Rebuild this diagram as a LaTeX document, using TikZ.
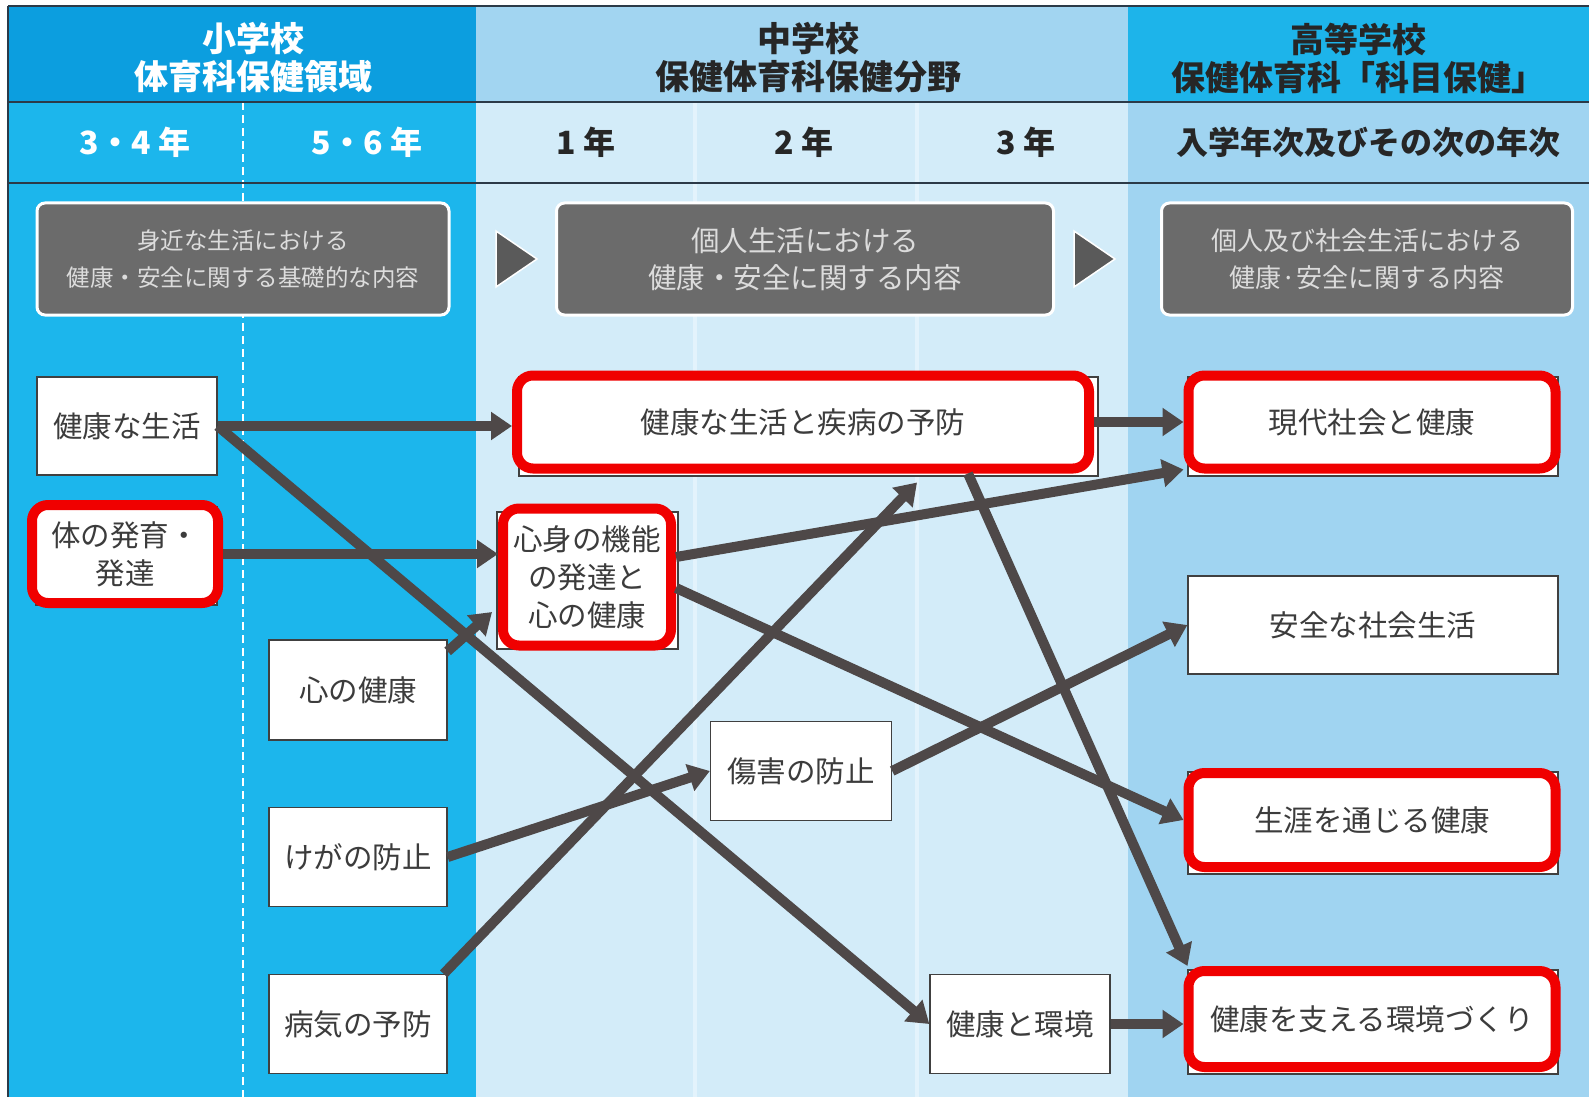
\documentclass[tikz,border=0pt]{standalone}
\usepackage{fontspec}
\setmainfont{Noto Sans CJK JP}
\usetikzlibrary{arrows.meta,calc}
\definecolor{elemhead}{HTML}{0C9EDF}
\definecolor{elembody}{HTML}{1CB6EC}
\definecolor{midhead}{HTML}{A2D5F1}
\definecolor{midbody}{HTML}{D3ECF9}
\definecolor{midline}{HTML}{E3F3FC}
\definecolor{highhead}{HTML}{1DB4EA}
\definecolor{highbody}{HTML}{A0D4F1}
\definecolor{arrowgray}{HTML}{4E4848}
\definecolor{boxgray}{HTML}{6B6B6B}
\definecolor{tritone}{HTML}{5A5A5A}
\definecolor{textgray}{HTML}{3C3C3C}
\definecolor{boxtext}{HTML}{DCDCDC}
\definecolor{redframe}{HTML}{F00000}
\definecolor{rule}{HTML}{2B3A48}
\tikzset{
  plain/.style={draw=black!75, line width=1.3pt, fill=white, text=textgray,
    align=center, font=\fontsize{29.5}{38}\selectfont, inner sep=0pt},
  redbox/.style={draw=redframe, line width=10pt, rounded corners=16pt, fill=white,
    text=textgray, align=center, font=\fontsize{29.5}{38}\selectfont, inner sep=0pt},
  underbox/.style={draw=black!75, line width=1.3pt, fill=white},
  graybox/.style={draw=white, line width=3pt, rounded corners=8pt, fill=boxgray,
    text=boxtext, align=center, inner sep=0pt},
  headtext/.style={align=center, font=\bfseries\fontsize{34}{38}\selectfont},
  yeartext/.style={font=\bfseries\fontsize{32}{34}\selectfont},
  arr/.style={draw=arrowgray, line width=10pt, -{Triangle[length=21pt,width=27pt]}},
}
\begin{document}
\begin{tikzpicture}[x=1pt,y=-1pt]
\useasboundingbox (0,0) rectangle (1589,1099);
% backgrounds
\fill[white] (0,0) rectangle (1589,1099);
\fill[elemhead] (8,6) rectangle (476,102);
\fill[elembody] (8,102) rectangle (476,1097);
\fill[midhead] (476,6) rectangle (1128,102);
\fill[midbody] (476,102) rectangle (1128,1097);
\fill[highhead] (1128,6) rectangle (1589,102);
\fill[highbody] (1128,102) rectangle (1589,1097);
\draw[midline, line width=4pt] (695,102) -- (695,1097);
\draw[midline, line width=4pt] (917,102) -- (917,1097);
\draw[white, line width=1.5pt, dash pattern=on 8pt off 5pt] (243,102) -- (243,1097);
\draw[rule, line width=2pt] (8,6) -- (1589,6);
\draw[rule, line width=2pt] (8,102) -- (1589,102);
\draw[rule, line width=2pt] (8,183) -- (1589,183);
\draw[rule, line width=2pt] (8,6) -- (8,1097);
% header texts
\node[headtext, text=white] (hElem) at (253,58) {小学校\\体育科保健領域};
\node[headtext, text=black!85] (hMid) at (808,58) {中学校\\保健体育科保健分野};
\node[headtext, text=black!85] (hHigh) at (1358,58) {高等学校\\保健体育科「科目保健」};
\node[yeartext, text=white] (y34) at (135,142) {3・4 年};
\node[yeartext, text=white] (y56) at (367,142) {5・6 年};
\node[yeartext, text=black!85] (y1) at (586,142) {1 年};
\node[yeartext, text=black!85] (y2) at (804,142) {2 年};
\node[yeartext, text=black!85] (y3) at (1026,142) {3 年};
\node[yeartext, text=black!85] (yH) at (1368,142) {入学年次及びその次の年次};
% gray boxes
\node[graybox, minimum width=412pt, minimum height=112pt, font=\fontsize{23.5}{37}\selectfont] (g1) at (243,259)
  {身近な生活における\\健康・安全に関する基礎的な内容};
\node[graybox, minimum width=497pt, minimum height=112pt, font=\fontsize{28.5}{37}\selectfont] (g2) at (805,259)
  {個人生活における\\健康・安全に関する内容};
\node[graybox, minimum width=411pt, minimum height=112pt, font=\fontsize{26}{37}\selectfont] (g3) at (1367,259)
  {個人及び社会生活における\\健康·安全に関する内容};
\fill[tritone, draw=white, line width=1.5pt] (496,231) -- (537,259) -- (496,287) -- cycle;
\fill[tritone, draw=white, line width=1.5pt] (1074,231) -- (1115,259) -- (1074,287) -- cycle;
% boxes peeking behind red frames
\draw[underbox] (36,507) rectangle (217,605);
\draw[underbox] (519,377) rectangle (1098,476);
\draw[underbox] (497,512) rectangle (678,649);
\draw[underbox] (1188,377) rectangle (1558,476);
\draw[underbox] (1188,772) rectangle (1558,874);
\draw[underbox] (1188,970) rectangle (1558,1074);
% elementary
\node[plain, minimum width=180pt, minimum height=98pt] (kenkou) at (127,426) {健康な生活};
\node[redbox, minimum width=186pt, minimum height=98pt] (karada) at (125,554) {体の発育・\\発達};
\node[plain, minimum width=178pt, minimum height=100pt] (kokoro) at (358,690) {心の健康};
\node[plain, minimum width=178pt, minimum height=99pt] (kega) at (358,857) {けがの防止};
\node[plain, minimum width=178pt, minimum height=99pt] (byouki) at (358,1024) {病気の予防};
% middle school
\node[redbox, minimum width=572pt, minimum height=93pt] (m1) at (803,422) {健康な生活と疾病の予防};
\node[redbox, minimum width=168pt, minimum height=137pt] (m2) at (587,577) {心身の機能\\の発達と\\心の健康};
\node[plain, minimum width=181pt, minimum height=99pt] (m3) at (801,771) {傷害の防止};
\node[plain, minimum width=180pt, minimum height=99pt] (m4) at (1020,1024) {健康と環境};
% high school
\node[redbox, minimum width=367pt, minimum height=93pt] (h1) at (1372,422) {現代社会と健康};
\node[plain, minimum width=370pt, minimum height=98pt] (h2) at (1373,625) {安全な社会生活};
\node[redbox, minimum width=367pt, minimum height=94pt] (h3) at (1372,820) {生涯を通じる健康};
\node[redbox, minimum width=367pt, minimum height=96pt] (h4) at (1372,1019) {健康を支える環境づくり};
% arrows
\draw[arr] (kenkou.east) -- (kenkou.east -| m1.west);
\draw[arr] (kenkou.east) -- (m4.west);
\draw[arr] (karada.east) -- (karada.east -| m2.west);
\draw[arr] ($(kokoro.north east)+(0,12)$) -- ($(m2.west)+(-6,35)$);
\draw[arr] (kega.east) -- (m3.west);
\draw[arr] ($(byouki.north east)+(-4,0)$) -- ($(m1.south)+(114,9)$);
\draw[arr] (m1.east) -- (h1.west);
\draw[arr] ($(m2.east)+(0,-20)$) -- ($(h1.south west)+(0,-4)$);
\draw[arr] ($(m2.east)+(0,11)$) -- (h3.west);
\draw[arr] ($(m1.south)+(165,0)$) -- ($(h4.north west)+(4,0)$);
\draw[arr] (m3.east) -- (h2.west);
\draw[arr] (m4.east) -- (m4.east -| h4.west);
\end{tikzpicture}
\end{document}
